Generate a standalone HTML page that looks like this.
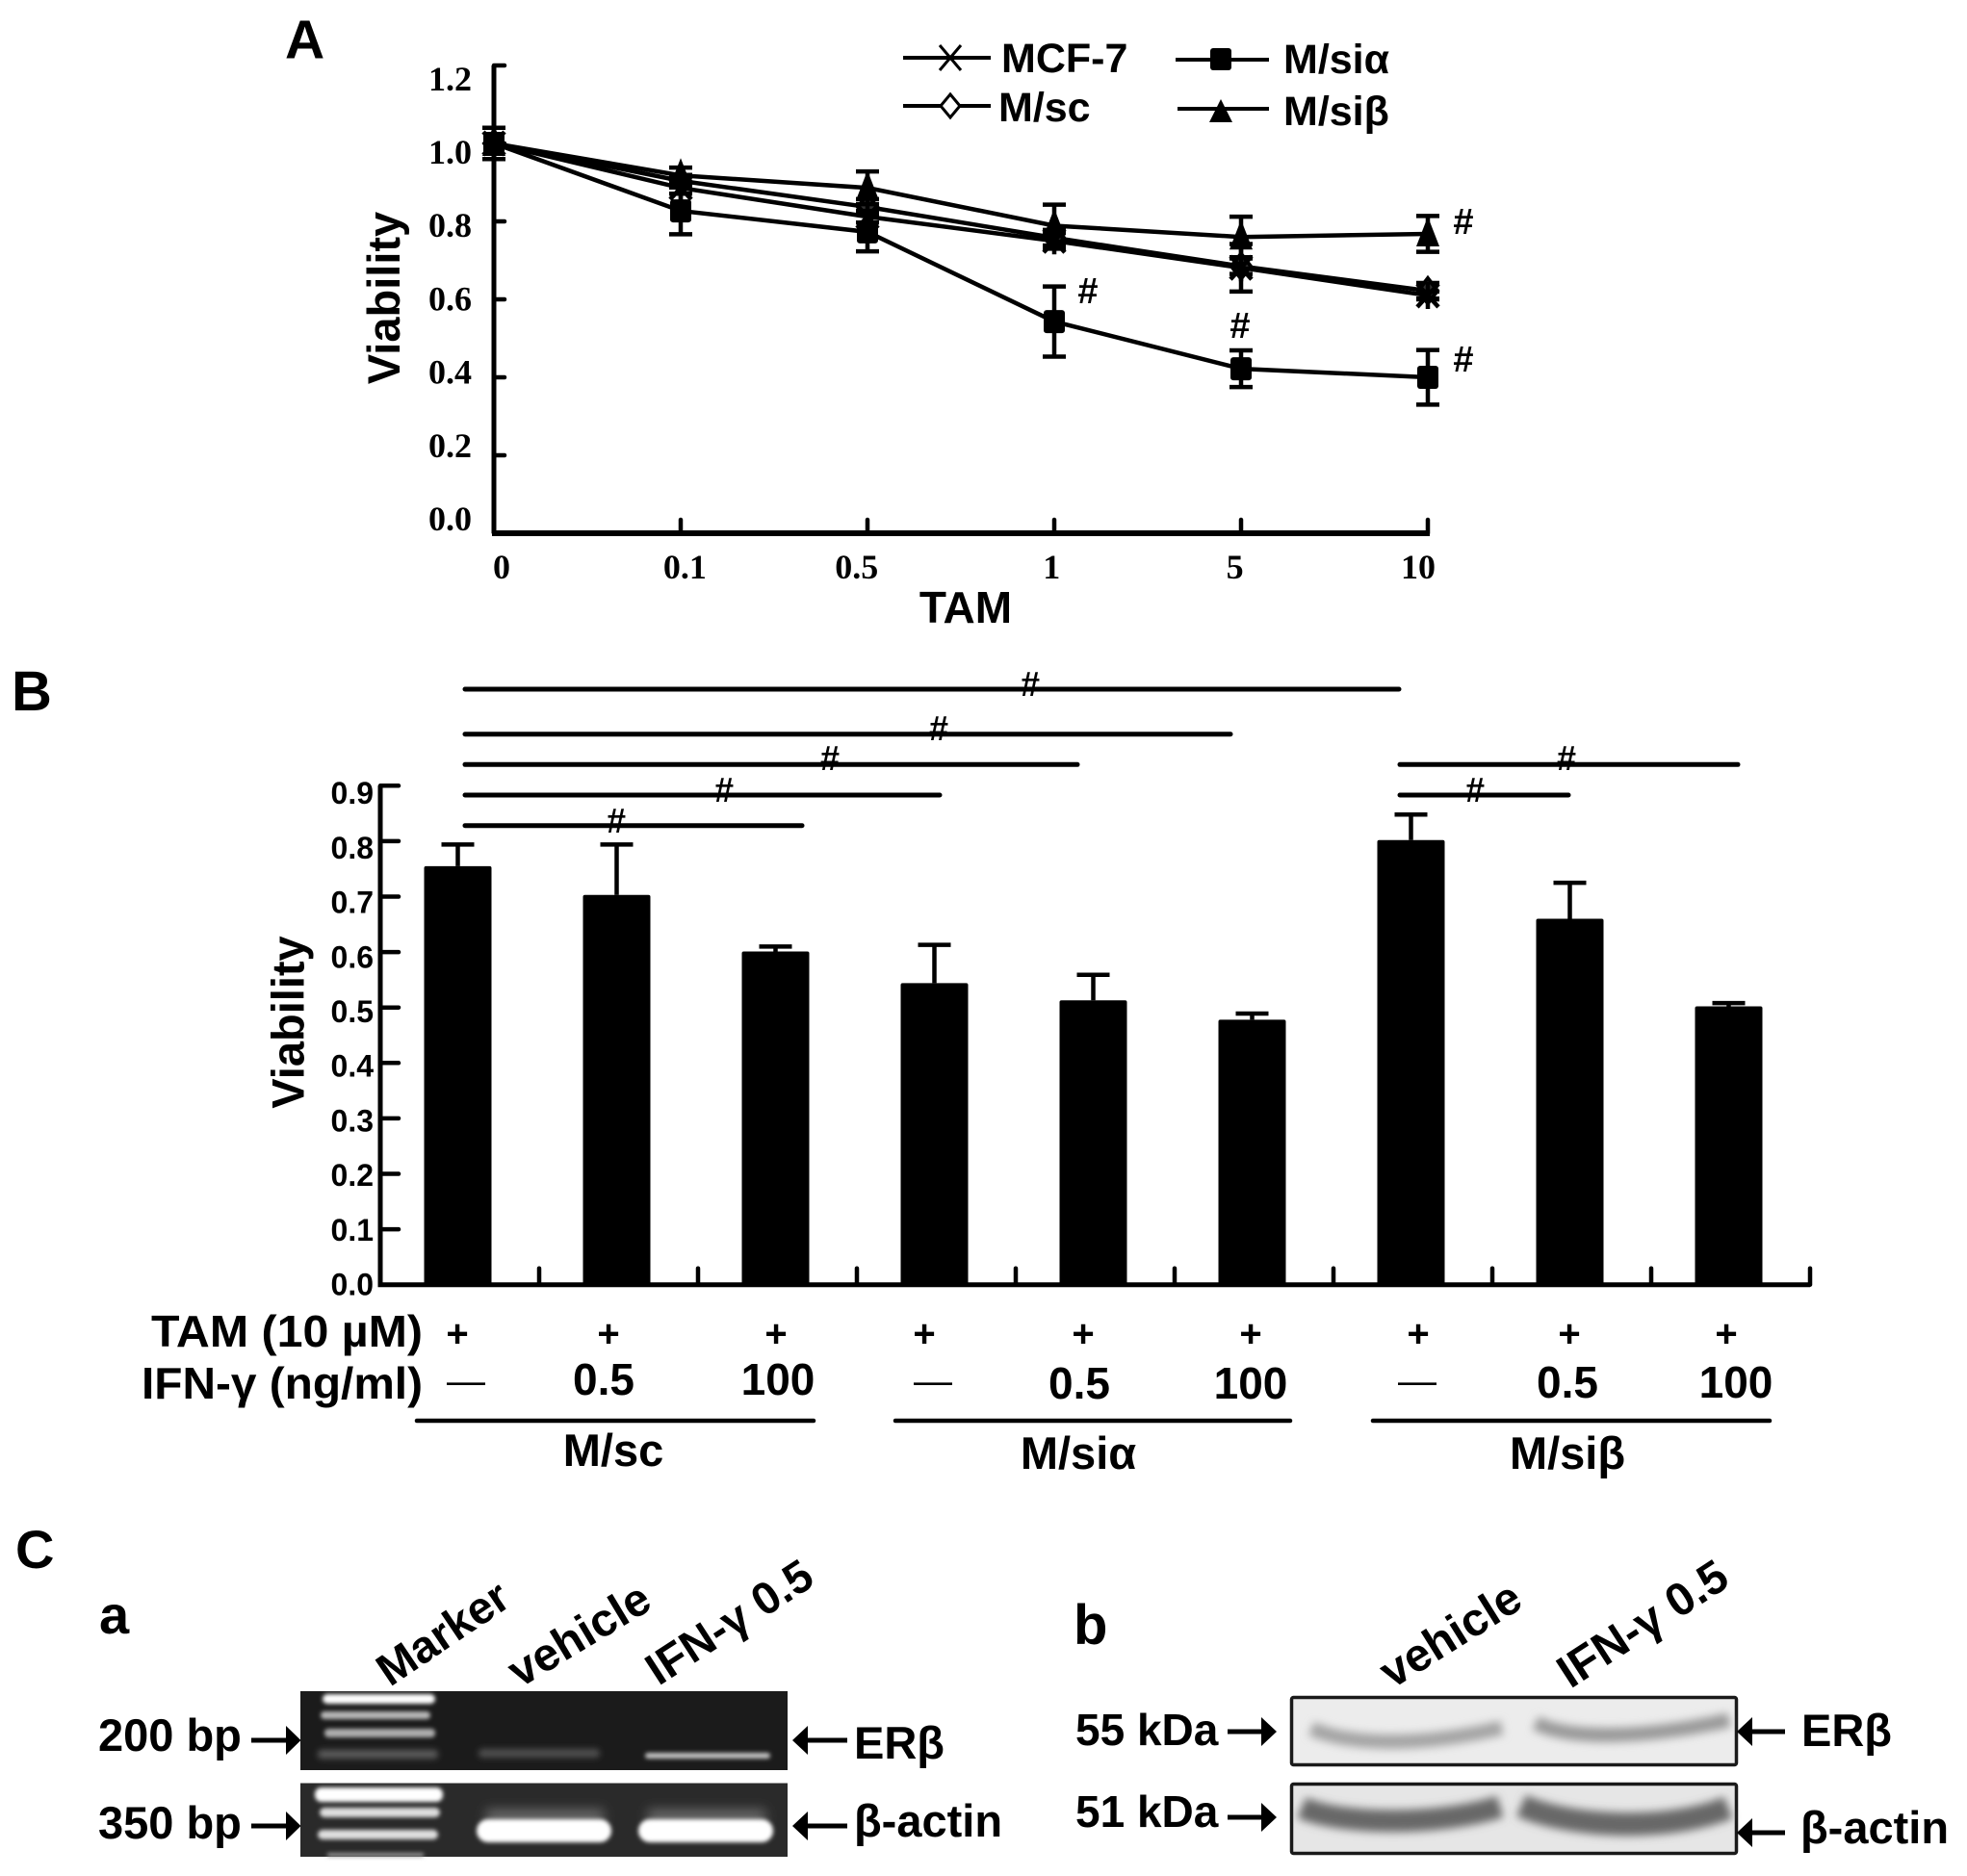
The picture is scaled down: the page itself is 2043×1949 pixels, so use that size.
<!DOCTYPE html>
<html lang="en">
<head>
<meta charset="utf-8">
<title>Viability charts and gel panels</title>
<style>
html,body{margin:0;padding:0;background:#fff;width:2043px;height:1949px;overflow:hidden}
svg{display:block}
text{font-family:"Liberation Sans",sans-serif;font-weight:bold;fill:#000}
.serif{font-family:"Liberation Serif",serif}
</style>
</head>
<body>
<svg id="figure" width="2043" height="1949" viewBox="0 0 2043 1949" xmlns="http://www.w3.org/2000/svg">
<defs>
<filter id="b1" x="-20%" y="-200%" width="140%" height="500%"><feGaussianBlur stdDeviation="2"/></filter>
<filter id="b2" x="-20%" y="-200%" width="140%" height="500%"><feGaussianBlur stdDeviation="3.2"/></filter>
<filter id="b3" x="-20%" y="-200%" width="140%" height="500%"><feGaussianBlur stdDeviation="6"/></filter>
<filter id="b4" x="-20%" y="-200%" width="140%" height="500%"><feGaussianBlur stdDeviation="4.5"/></filter>
</defs>
<rect width="2043" height="1949" fill="#fff"/>

<!-- Panel letters -->
<text x="296" y="60.700" font-size="57">A</text>
<text x="12" y="738" font-size="58">B</text>
<text x="16" y="1629" font-size="56">C</text>
<text x="103" y="1697" font-size="56">a</text>
<text x="1115" y="1708" font-size="58">b</text>

<!-- Panel A static -->
<g id="chartA"></g>
<text x="1003" y="647" font-size="46" text-anchor="middle">TAM</text>
<text transform="translate(415 309.500) rotate(-90)" font-size="47" text-anchor="middle">Viability</text>
<g>
  <g>
    <path d="M938 60H1029" stroke="#000" stroke-width="4"/>
    <path d="M976 47L998 73M998 47L976 73" stroke="#000" stroke-width="3" fill="none"/>
    <text x="1040" y="75" font-size="43">MCF-7</text>
  </g>
  <g>
    <path d="M938 110H1029" stroke="#000" stroke-width="4"/>
    <path d="M987 98L997 110L987 122L977 110Z" fill="#fff" stroke="#000" stroke-width="3"/>
    <text x="1037" y="126" font-size="43">M/sc</text>
  </g>
  <g>
    <path d="M1221 62H1318" stroke="#000" stroke-width="4"/>
    <rect x="1257" y="50" width="22" height="23" rx="3" fill="#000"/>
    <text x="1333" y="76" font-size="43">M/siα</text>
  </g>
  <g>
    <path d="M1223 113H1318" stroke="#000" stroke-width="4"/>
    <path d="M1268 103L1280 127H1256Z" fill="#000"/>
    <text x="1333" y="130" font-size="43">M/siβ</text>
  </g>
</g>

<!-- Panel B static -->
<g id="chartB"></g>
<text transform="translate(315.500 1062) rotate(-90)" font-size="47" text-anchor="middle">Viability</text>
<g stroke="#000" stroke-width="5" stroke-linecap="round">
  <path d="M483 716H1453"/>
  <path d="M483 762.700H1278"/>
  <path d="M483 794.300H1119"/>
  <path d="M483 826H976"/>
  <path d="M483 857.700H833"/>
  <path d="M1454 794.300H1805"/>
  <path d="M1454 826H1629"/>
</g>
<g font-size="36" text-anchor="middle">
  <text x="1070" y="723">#</text>
  <text x="975" y="769">#</text>
  <text x="862" y="800">#</text>
  <text x="752" y="833">#</text>
  <text x="640" y="865">#</text>
  <text x="1627" y="800">#</text>
  <text x="1532" y="833">#</text>
</g>
<g>
  <text x="439" y="1399" font-size="46" text-anchor="end" textLength="282" lengthAdjust="spacingAndGlyphs">TAM (10 µM)</text>
  <text x="439" y="1453" font-size="46" text-anchor="end" textLength="292" lengthAdjust="spacingAndGlyphs">IFN-γ (ng/ml)</text>
  <g font-size="40" text-anchor="middle">
    <text x="475" y="1399">+</text><text x="632" y="1399">+</text><text x="806" y="1399">+</text>
    <text x="960" y="1399">+</text><text x="1125" y="1399">+</text><text x="1299" y="1399">+</text>
    <text x="1473" y="1399">+</text><text x="1630" y="1399">+</text><text x="1793" y="1399">+</text>
  </g>
  <g font-size="46" text-anchor="middle">
    <text x="484" y="1448" font-size="40" style="font-weight:normal">—</text>
    <text x="627" y="1449">0.5</text>
    <text x="808" y="1449">100</text>
    <text x="969" y="1448" font-size="40" style="font-weight:normal">—</text>
    <text x="1121" y="1453">0.5</text>
    <text x="1299" y="1453">100</text>
    <text x="1472" y="1448" font-size="40" style="font-weight:normal">—</text>
    <text x="1628" y="1452">0.5</text>
    <text x="1803" y="1452">100</text>
  </g>
  <g stroke="#000" stroke-width="4.500" stroke-linecap="round">
    <path d="M433 1476H845"/>
    <path d="M930 1476H1340"/>
    <path d="M1426 1476H1838"/>
  </g>
  <g font-size="47" text-anchor="middle">
    <text x="637" y="1523">M/sc</text>
    <text x="1120" y="1526">M/siα</text>
    <text x="1628" y="1526">M/siβ</text>
  </g>
</g>

<!-- Panel C a: gels -->
<g>
  <text transform="translate(405 1753) rotate(-34)" font-size="47">Marker</text>
  <text transform="translate(540 1754) rotate(-31)" font-size="48">vehicle</text>
  <text transform="translate(684 1752) rotate(-33)" font-size="47">IFN-γ 0.5</text>
  <g>
    <rect x="312" y="1757" width="506" height="82" fill="#1b1b1b"/>
    <rect x="335" y="1760" width="117" height="10" rx="5" fill="#fff" filter="url(#b1)"/>
    <rect x="333" y="1778" width="114" height="8" rx="4" fill="#b8b8b8" filter="url(#b1)"/>
    <rect x="337" y="1796" width="115" height="9" rx="4" fill="#adadad" filter="url(#b1)"/>
    <rect x="330" y="1818" width="125" height="9" rx="4" fill="#5c5c5c" filter="url(#b2)"/>
    <rect x="497" y="1817" width="126" height="9" rx="4" fill="#505050" filter="url(#b2)"/>
    <rect x="670" y="1821" width="130" height="6" rx="3" fill="#c4c4c4" filter="url(#b1)"/>
  </g>
  <g>
    <rect x="312" y="1852" width="506" height="77" fill="#2a2a2a"/>
    <rect x="327" y="1857" width="133" height="15" rx="7" fill="#fff" filter="url(#b1)"/>
    <rect x="332" y="1878" width="125" height="10" rx="5" fill="#dedede" filter="url(#b1)"/>
    <rect x="330" y="1901" width="125" height="10" rx="5" fill="#dedede" filter="url(#b1)"/>
    <rect x="340" y="1925" width="100" height="4" fill="#999" filter="url(#b1)"/>
    <rect x="505" y="1880" width="122" height="14" fill="#6a6a6a" filter="url(#b3)"/>
    <rect x="673" y="1880" width="122" height="14" fill="#6a6a6a" filter="url(#b3)"/>
    <rect x="495" y="1890" width="140" height="24" rx="12" fill="#fff" filter="url(#b1)"/>
    <rect x="663" y="1890" width="140" height="24" rx="12" fill="#fff" filter="url(#b1)"/>
    <rect x="312" y="1852" width="506" height="1" fill="#999"/>
  </g>
  <text x="102" y="1819" font-size="47">200 bp</text>
  <text x="102" y="1910" font-size="47">350 bp</text>
  <path d="M261 1805.500H297V1793L312.500 1808L297 1823V1810.500H261Z"/>
  <path d="M261 1894.500H297V1882L312.500 1897L297 1912V1899.500H261Z"/>
  <path d="M880 1805.500H839V1793L823 1808L839 1823V1810.500H880Z"/>
  <path d="M880 1894.500H839V1882L823 1897L839 1912V1899.500H880Z"/>
  <text x="887" y="1827" font-size="47">ERβ</text>
  <text x="887" y="1908" font-size="47">β-actin</text>
</g>

<!-- Panel C b: western blots -->
<g>
  <text transform="translate(1446 1755) rotate(-32)" font-size="48">vehicle</text>
  <text transform="translate(1631 1755) rotate(-33)" font-size="48">IFN-γ 0.5</text>
  <g>
    <rect x="1341.500" y="1763.500" width="462" height="70" rx="2" fill="#ececec" stroke="#1a1a1a" stroke-width="3.500"/>
    <path d="M1362 1796C1400 1812 1470 1816 1560 1795" fill="none" stroke="#a4a4a4" stroke-width="15" filter="url(#b4)"/>
    <path d="M1595 1790C1630 1808 1710 1806 1796 1787" fill="none" stroke="#9a9a9a" stroke-width="15" filter="url(#b4)"/>
  </g>
  <g>
    <rect x="1341.500" y="1853.500" width="462" height="72" rx="2" fill="#e6e6e6" stroke="#1a1a1a" stroke-width="3.500"/>
    <path d="M1352 1878C1390 1895 1490 1898 1558 1877" fill="none" stroke="#686868" stroke-width="23" filter="url(#b4)"/>
    <path d="M1580 1876C1630 1898 1730 1904 1795 1878" fill="none" stroke="#686868" stroke-width="24" filter="url(#b4)"/>
  </g>
  <text x="1117" y="1813" font-size="46">55 kDa</text>
  <text x="1117" y="1898" font-size="46">51 kDa</text>
  <path d="M1275 1796.500H1310V1784L1326 1799L1310 1814V1801.500H1275Z"/>
  <path d="M1275 1885.500H1310V1873L1326 1888L1310 1903V1890.500H1275Z"/>
  <path d="M1854 1796.500H1820V1784L1804 1799L1820 1814V1801.500H1854Z"/>
  <path d="M1854 1901.500H1820V1889L1804 1904L1820 1919V1906.500H1854Z"/>
  <text x="1871" y="1814" font-size="47">ERβ</text>
  <text x="1870" y="1915" font-size="47">β-actin</text>
</g>

<script>
// ---- Panel A data ----
var doseLabels = ['0', '0.1', '0.5', '1', '5', '10'];
var viabilityTicks = [0, 0.2, 0.4, 0.6, 0.8, 1.0, 1.2];
var mcf7Values = [1.0, 0.886, 0.812, 0.75, 0.681, 0.61];
var mcf7Errors = [0.04, 0.015, 0.015, 0.02, 0.061, 0.01];
var mscValues = [1.0, 0.904, 0.837, 0.758, 0.685, 0.622];
var mscErrors = [0.04, 0.015, 0.02, 0.02, 0.02, 0.02];
var msiAlphaValues = [1.0, 0.827, 0.773, 0.543, 0.422, 0.4];
var msiAlphaErrors = [0.04, 0.06, 0.05, 0.09, 0.047, 0.07];
var msiBetaValues = [1.0, 0.918, 0.886, 0.789, 0.76, 0.768];
var msiBetaErrors = [0.04, 0.02, 0.042, 0.054, 0.052, 0.046];

// ---- Panel B data ----
var barCategories = ['M/sc none', 'M/sc 0.5', 'M/sc 100', 'M/si-alpha none', 'M/si-alpha 0.5', 'M/si-alpha 100', 'M/si-beta none', 'M/si-beta 0.5', 'M/si-beta 100'];
var barValues = [0.755, 0.703, 0.601, 0.544, 0.513, 0.478, 0.802, 0.66, 0.502];
var barErrors = [0.039, 0.091, 0.009, 0.069, 0.046, 0.011, 0.046, 0.065, 0.006];
var barTickLabels = ['0.0', '0.1', '0.2', '0.3', '0.4', '0.5', '0.6', '0.7', '0.8', '0.9'];
var barTickValues = [0, 0.1, 0.2, 0.3, 0.4, 0.5, 0.6, 0.7, 0.8, 0.9];

var NS = 'http://www.w3.org/2000/svg';
function mk(parent, tag, attrs, txt) {
  var el = document.createElementNS(NS, tag);
  for (var k in attrs) el.setAttribute(k, attrs[k]);
  if (txt !== undefined) el.textContent = txt;
  parent.appendChild(el);
  return el;
}

// ---- Panel A scales ----
function xA(i) { return 513 + i * 194; }
function yA(v) { return 554 - v * 405; }
function yLabelA(v) { return 551 - v * 381; }
function xLabelA(i, d) { return 521 + i * 190.4 + (d === '0.5' ? -12 : 0); }

var chartA = document.getElementById('chartA');
var el;
el = mk(chartA, 'path', {d: 'M' + xA(0) + ' ' + yA(1.2) + 'V' + yA(0), stroke: '#000', 'stroke-width': 5, fill: 'none'});


el = mk(chartA, 'path', {d: 'M' + (xA(0) - 2) + ' ' + yA(0) + 'H' + (xA(5) + 2), stroke: '#000', 'stroke-width': 6, fill: 'none'});



viabilityTicks.forEach(function (v) {
  var t = mk(chartA, 'path', {d: 'M' + xA(0) + ' ' + yA(v) + 'h11', stroke: '#000', 'stroke-width': 4.5, 'stroke-linecap': 'round'});
  
  
  var l = mk(chartA, 'text', {x: 490, y: yLabelA(v), 'font-size': 36, 'text-anchor': 'end', 'class': 'serif'}, v.toFixed(1));
  
  
});
doseLabels.forEach(function (d, i) {
  if (i > 0) {
    var t = mk(chartA, 'path', {d: 'M' + xA(i) + ' ' + yA(0) + 'v-14', stroke: '#000', 'stroke-width': 4.5, 'stroke-linecap': 'round'});
    
    
  }
  var l = mk(chartA, 'text', {x: xLabelA(i, d), y: 601, 'font-size': 36, 'text-anchor': 'middle', 'class': 'serif'}, d);
  
  
});

function drawMarker(g, kind, cx, cy) {
  if (kind === 'star') {
    return mk(g, 'path', {d: 'M' + (cx - 11) + ' ' + (cy - 12) + 'L' + (cx + 11) + ' ' + (cy + 12) + 'M' + (cx + 11) + ' ' + (cy - 12) + 'L' + (cx - 11) + ' ' + (cy + 12) + 'M' + cx + ' ' + (cy - 14) + 'V' + (cy + 14), stroke: '#000', 'stroke-width': 4.5, fill: 'none'});
  }
  if (kind === 'diamond') {
    return mk(g, 'path', {d: 'M' + cx + ' ' + (cy - 13) + 'L' + (cx + 10) + ' ' + cy + 'L' + cx + ' ' + (cy + 13) + 'L' + (cx - 10) + ' ' + cy + 'Z', stroke: '#000', 'stroke-width': 4, fill: '#333'});
  }
  if (kind === 'square') {
    return mk(g, 'rect', {x: cx - 11, y: cy - 12, width: 22, height: 24, rx: 3, fill: '#000'});
  }
  return mk(g, 'path', {d: 'M' + cx + ' ' + (cy - 18) + 'L' + (cx + 12) + ' ' + (cy + 13) + 'L' + (cx - 12) + ' ' + (cy + 13) + 'Z', fill: '#000'});
}

function drawSeries(name, values, errors, kind) {
  var g = mk(chartA, 'g', {});
  
  
  var d = values.map(function (v, i) { return (i ? 'L' : 'M') + xA(i) + ' ' + yA(v); }).join('');
  var line = mk(g, 'path', {d: d, stroke: '#000', 'stroke-width': 4.5, fill: 'none'});
  
  
  values.forEach(function (v, i) {
    var cx = xA(i), hi = yA(v + errors[i]), lo = yA(v - errors[i]);
    var eb = mk(g, 'path', {d: 'M' + cx + ' ' + hi + 'V' + lo + 'M' + (cx - 12) + ' ' + hi + 'h24M' + (cx - 12) + ' ' + lo + 'h24', stroke: '#000', 'stroke-width': 4.5, fill: 'none'});
    
    
  });
  values.forEach(function (v, i) {
    var m = drawMarker(g, kind, xA(i), yA(v));
    
    
  });
}
drawSeries('series-m-sc', mscValues, mscErrors, 'diamond');
drawSeries('series-mcf-7', mcf7Values, mcf7Errors, 'star');
drawSeries('series-m-si-alpha', msiAlphaValues, msiAlphaErrors, 'square');
drawSeries('series-m-si-beta', msiBetaValues, msiBetaErrors, 'triangle');

function sigA(i, v, off) {
  var s = mk(chartA, 'text', {x: xA(i) + off, y: yA(v) + 13, 'font-size': 38, 'text-anchor': 'middle'}, '#');
  
  
}
sigA(3, msiAlphaValues[3] + 0.079, 35);
sigA(4, msiAlphaValues[4] + 0.111, -1);
sigA(5, msiBetaValues[5] + 0.032, 37);
sigA(5, msiAlphaValues[5] + 0.047, 37);

// ---- Panel B scales ----
function bandB(i) { return 395 + i * 165; }
function xBarB(i) { return bandB(i) + 80.5; }
function yB(v) { return 1334.7 - v * 576; }
function yLabelB(v) { return 1345.7 - v * 567.4; }

var chartB = document.getElementById('chartB');
barCategories.forEach(function (c, i) {
  var cx = xBarB(i), top = yB(barValues[i]), hi = yB(barValues[i] + barErrors[i]);
  var er = mk(chartB, 'path', {d: 'M' + cx + ' ' + top + 'V' + hi + 'M' + (cx - 17) + ' ' + hi + 'h34', stroke: '#000', 'stroke-width': 4.5, fill: 'none'});
  
  
  var b = mk(chartB, 'rect', {x: cx - 35, y: top, width: 70, height: yB(0) - top, fill: '#000', rx: 2});
  
  
  var t = mk(chartB, 'path', {d: 'M' + bandB(i + 1) + ' ' + yB(0) + 'v-17', stroke: '#000', 'stroke-width': 4.5, 'stroke-linecap': 'round'});
  
  
});
el = mk(chartB, 'path', {d: 'M' + bandB(0) + ' ' + yB(0.9) + 'V' + yB(0) + 'H' + bandB(9), stroke: '#000', 'stroke-width': 5, fill: 'none'});


barTickValues.forEach(function (v, i) {
  var t = mk(chartB, 'path', {d: 'M' + bandB(0) + ' ' + yB(v) + 'h19', stroke: '#000', 'stroke-width': 4.5, 'stroke-linecap': 'round'});
  
  
  var l = mk(chartB, 'text', {x: 388, y: yLabelB(v), 'font-size': 32, 'text-anchor': 'end'}, barTickLabels[i]);
  
  
});
</script>
</svg>
</body>
</html>
